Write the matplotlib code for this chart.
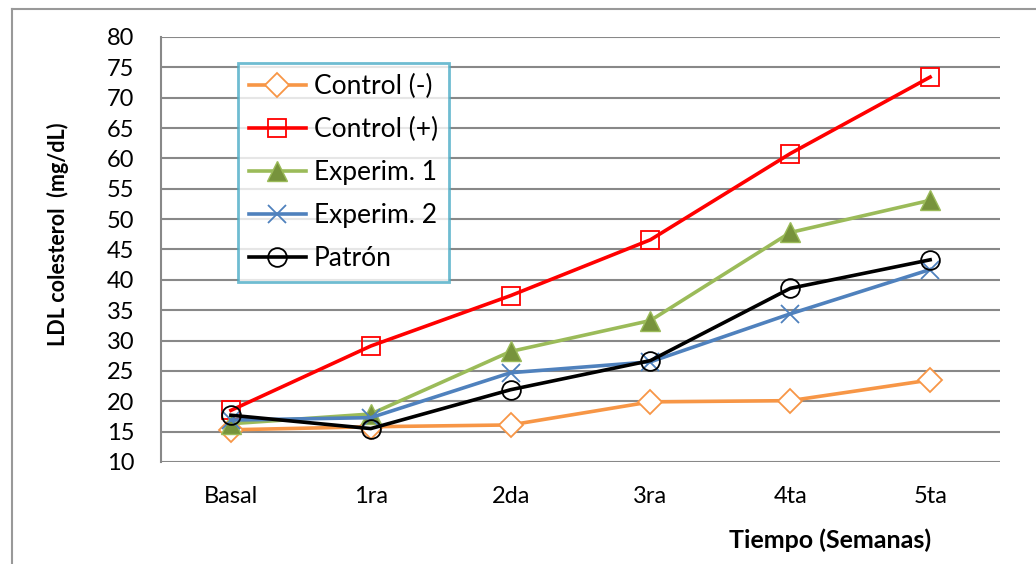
import matplotlib.pyplot as plt
from matplotlib.lines import Line2D

semanas = ["Basal", "1ra", "2da", "3ra", "4ta", "5ta"]
control_neg = [15.3, 15.8, 16.1, 19.9, 20.1, 23.5]
control_pos = [18.5, 29.1, 37.4, 46.6, 60.8, 73.4]
experim_1 = [16.3, 17.9, 28.2, 33.3, 47.8, 53.1]
experim_2 = [16.9, 17.3, 24.7, 26.5, 34.4, 41.7]
patron = [17.7, 15.5, 21.9, 26.7, 38.6, 43.3]
yticks = list(range(10, 85, 5))

plt.rcParams['font.family'] = ['Lato', 'DejaVu Sans']

fig = plt.figure(figsize=(10.36, 5.64), dpi=100)
ax = fig.add_axes([0.1554, 0.1809, 0.8099, 0.7535])

x = range(len(semanas))
ax.plot(x, control_neg, color="#F79646", lw=2.6, marker="D", ms=12, mfc="white",
        mec="#F79646", mew=1.3, label="Control (-)", zorder=3)
ax.plot(x, control_pos, color="#FF0000", lw=2.6, marker="s", ms=13, mfc="none",
        mec="#FF0000", mew=1.3, label="Control (+)", zorder=3)
ax.plot(x, experim_1, color="#9BBB59", lw=2.6, marker="^", ms=14, mfc="#77933C",
        mec="#9BBB59", mew=1, label="Experim. 1", zorder=3)
ax.plot(x, experim_2, color="#4F81BD", lw=2.6, marker="x", ms=13, mec="#4F81BD",
        mew=1.3, label="Experim. 2", zorder=3)
ax.plot(x, patron, color="black", lw=2.6, marker="o", ms=13.5, mfc="none",
        mec="black", mew=1.3, label="Patrón", zorder=4)

ax.set_xlim(-0.5, 5.5)
ax.set_ylim(10, 80)
ax.set_yticks(yticks)
ax.set_xticks(list(x))
ax.set_xticklabels(semanas)
ax.tick_params(axis="both", length=0, labelsize=17)
ax.tick_params(axis="y", pad=19)
ax.tick_params(axis="x", pad=17)
ax.yaxis.grid(True, color="#888888", lw=1.5)
ax.set_axisbelow(True)
for s in ["top", "right", "bottom"]:
    ax.spines[s].set_visible(False)
ax.spines["left"].set_color("#888888")
ax.spines["left"].set_linewidth(1.5)

fig.text(0.056, 0.585, "LDL colesterol  (mg/dL)", fontsize=15.5, fontweight="bold",
         rotation=90, ha="center", va="center")
fig.text(0.801, 0.0426, "Tiempo (Semanas)", fontsize=18, fontweight="bold",
         ha="center", va="center")

# legend box: 211 px wide, top-left at (238, 63) px
leg = ax.legend(loc="upper left", bbox_to_anchor=(0.0918, 0.939, 0.2515, 0.0),
                mode="expand", fontsize=19, borderaxespad=0, frameon=True,
                fancybox=False, edgecolor="#4BACC6", handlelength=2.15,
                labelspacing=0.68, borderpad=0.42, handletextpad=0.3)
leg.get_frame().set_linewidth(2)

# chart area border (top and left only visible)
fig.add_artist(Line2D([0.0116, 0.0116], [0, 0.984], color="#999999", lw=1.5))
fig.add_artist(Line2D([0.0116, 1], [0.984, 0.984], color="#999999", lw=1.5))

fig.savefig("out.png", dpi=100)
